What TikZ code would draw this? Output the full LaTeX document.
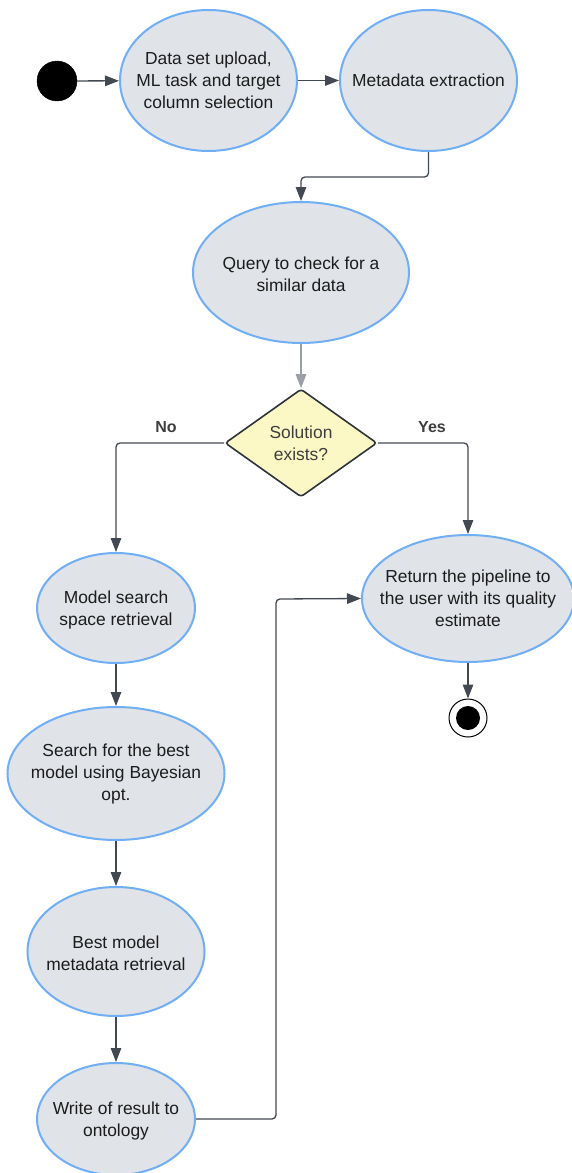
\documentclass[tikz,border=0pt]{standalone}
\usepackage{fontspec}
\setmainfont{Liberation Sans}
\usetikzlibrary{shapes.geometric,arrows.meta}
\definecolor{procfill}{HTML}{E0E3E8}
\definecolor{procline}{HTML}{70AEF5}
\definecolor{conn}{HTML}{434952}
\definecolor{connlight}{HTML}{9A9EA5}
\definecolor{decfill}{HTML}{FCF8C6}
\definecolor{decline}{HTML}{2D333A}
\definecolor{txtcol}{HTML}{1C1C1C}
\definecolor{dectxt}{HTML}{3E3E3E}
\tikzset{
  proc/.style={ellipse, draw=procline, line width=2pt, fill=procfill, inner sep=0pt},
  txt/.style={align=center, text=txtcol, font=\fontsize{17.4}{22}\selectfont, inner sep=0pt},
  dec/.style={diamond, draw=decline, line width=1.6pt, fill=decfill, inner sep=0pt, rounded corners=3pt},
  conn/.style={draw=conn, line width=1.3pt, rounded corners=4pt, -{Triangle[length=14pt,width=10.5pt]}},
  connl/.style={conn, draw=connlight},
  lbl/.style={font=\bfseries\fontsize{16}{19}\selectfont, text=dectxt, inner sep=0pt}
}
\begin{document}
\begin{tikzpicture}[x=1pt,y=-1pt]
\useasboundingbox (0,0) rectangle (572,1173);
% start
\node[circle, fill=black, draw=black, minimum size=40pt, inner sep=0pt] (start) at (57,81) {};
% ellipses
\node[proc, minimum width=177pt, minimum height=141pt] (e1) at (208.5,80.5) {};
\node[txt] (e1t) at (e1) {Data set upload,\\ML task and target\\column selection};
\node[proc, minimum width=177pt, minimum height=141pt] (e2) at (428.5,80.5) {};
\node[txt] (e2t) at (e2) {Metadata extraction};
\node[proc, minimum width=216pt, minimum height=141pt] (e3) at (301,272.5) {};
\node[txt] (e3t) at ([yshift=-2pt]e3.center) {Query to check for a\\similar data};
% decision
\node[dec, minimum width=152pt, minimum height=108pt] (d) at (301,443) {};
\node[txt, text=dectxt] (dt) at (d) {Solution\\exists?};
\node[lbl] (no) at (166,427) {No};
\node[lbl] (yes) at (432,427) {Yes};
% yes branch
\node[proc, minimum width=212pt, minimum height=127pt] (e5) at (468,598.5) {};
\node[txt] (e5t) at (e5) {Return the pipeline to\\the user with its quality\\estimate};
\node[circle, fill=white, draw=black, line width=1pt, minimum size=38pt, inner sep=0pt] (endo) at (468,718) {};
\node[circle, fill=black, minimum size=24pt, inner sep=0pt] (endi) at (endo) {};
% no branch
\node[proc, minimum width=158pt, minimum height=110pt] (e4) at (116,608) {};
\node[txt] (e4t) at ([yshift=-2pt]e4.center) {Model search\\space retrieval};
\node[proc, minimum width=217pt, minimum height=133pt] (e6) at (116,773.5) {};
\node[txt] (e6t) at (e6) {Search for the best\\model using Bayesian\\opt.};
\node[proc, minimum width=177pt, minimum height=129pt] (e7) at (116,951.5) {};
\node[txt] (e7t) at ([yshift=-2pt]e7.center) {Best model\\metadata retrieval};
\node[proc, minimum width=158pt, minimum height=112pt] (e8) at (116,1119) {};
\node[txt] (e8t) at ([yshift=-2pt]e8.center) {Write of result to\\ontology};
% helper coordinates
\coordinate (c2) at (301,177);
\coordinate (cl1) at (276,1119);
\coordinate (cl2) at (276,599);
% connectors
\draw[conn] (start) -- (e1);
\draw[conn] (e1) -- (e2);
\draw[conn] (e2.south) |- (c2) -- (e3.north);
\draw[connl] (e3.south) -- (d.north);
\draw[conn] (d.west) -| (e4.north);
\draw[conn] (d.east) -| (e5.north);
\draw[conn] (e5.south) -- (endo.north);
\draw[conn] (e4.south) -- (e6.north);
\draw[conn] (e6.south) -- (e7.north);
\draw[conn] (e7.south) -- (e8.north);
\draw[conn] (e8.east) -- (cl1) -- (cl2) -- (e5.west);
\end{tikzpicture}
\end{document}
